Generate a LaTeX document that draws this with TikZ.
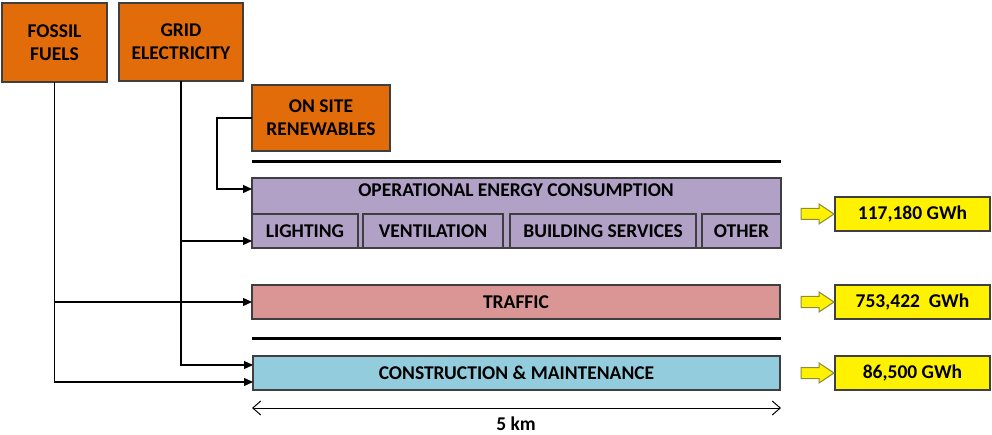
\documentclass[tikz,border=0pt]{standalone}
\usepackage{fontspec}
\setmainfont{Carlito}
\usetikzlibrary{arrows.meta}

\definecolor{srcorange}{HTML}{E36C0A}
\definecolor{opecpurple}{HTML}{B2A1C7}
\definecolor{trafficred}{HTML}{D99694}
\definecolor{constrblue}{HTML}{93CDDD}
\definecolor{edgegray}{HTML}{3F3F3F}
\definecolor{arrowedge}{HTML}{8C8C3C}

\tikzset{
  box/.style={draw=edgegray, line width=1.3pt, anchor=north west, inner sep=0pt, outer sep=0pt, align=center},
  source/.style={box, fill=srcorange},
  sector/.style={box, minimum height=34pt},
  result/.style={box, fill=yellow, minimum width=155pt, minimum height=34pt},
  thickrule/.style={line width=3pt},
  feed/.style={line width=1.2pt, -{Triangle[length=9pt, width=8pt]}},
  yellowarrow/.style={draw=arrowedge, fill=yellow, line width=1pt, line join=miter}
}

\begin{document}
\begin{tikzpicture}[x=1pt, y=-1pt, font=\fontsize{19.5}{23}\selectfont\bfseries]
\useasboundingbox (0,0) rectangle (992,435);

% energy sources
\node[source, minimum width=105pt, minimum height=79pt] (fossil) at (2,3) {FOSSIL\\FUELS};
\node[source, minimum width=124pt, minimum height=78pt] (grid) at (119,3) {GRID\\ELECTRICITY};
\node[source, minimum width=138pt, minimum height=66pt] (onsite) at (252,85) {ON SITE\\RENEWABLES};

% consumers
\node[box, fill=opecpurple, minimum width=529pt, minimum height=70pt] (opec) at (252,178) {};
\node (opectext) at (516,190) {OPERATIONAL ENERGY CONSUMPTION};
\node[sector, fill=opecpurple, minimum width=106pt] (light) at (252,214) {LIGHTING};
\node[sector, fill=opecpurple, minimum width=140pt] (vent) at (363,214) {VENTILATION};
\node[sector, fill=opecpurple, minimum width=186pt] (bserv) at (510,214) {BUILDING SERVICES};
\node[sector, fill=opecpurple, minimum width=79pt] (other) at (702,214) {OTHER};
\node[sector, fill=trafficred, minimum width=528pt] (traffic) at (252,285) {TRAFFIC};
\node[sector, fill=constrblue, minimum width=527pt] (constr) at (253,356) {CONSTRUCTION \& MAINTENANCE};

\draw[thickrule] (252,162) -- (781,162);
\draw[thickrule] (252,338) -- (781,338);

% totals
\node[result] (tot1) at (835,197) {117,180 GWh};
\node[result] (tot2) at (835,285) {753,422\ \ GWh};
\node[result] (tot3) at (835,356) {86,500 GWh};
\foreach \t in {tot1,tot2,tot3} {
  \draw[yellowarrow] ([xshift=-34pt,yshift=-5.5pt]\t.west) -- ++(18,0) -- ++(0,4.5) -- ++(15,-10)
    -- ++(-15,-10) -- ++(0,4.5) -- ++(-18,0) -- cycle;
}

% supply lines
\draw[feed] (onsite.west) -- ++(-35,0) |- (opec.west |- 0,189);
\draw[feed] (grid.south) |- (constr.west |- 0,365);
\draw[feed] (grid.south |- 0,241) -- (opec.west |- 0,241);
\draw[feed] (fossil.south) |- (constr.west |- 0,382);
\draw[feed] (fossil.south |- traffic.west) -- (traffic.west);

% length
\coordinate (lenA) at (252,408);
\coordinate (lenB) at (781,408);
\draw[line width=1pt, {Straight Barb[length=8pt, width=14pt]}-{Straight Barb[length=8pt, width=14pt]}] (lenA) -- (lenB);
\node (len) at (516,424) {5 km};
\end{tikzpicture}
\end{document}
